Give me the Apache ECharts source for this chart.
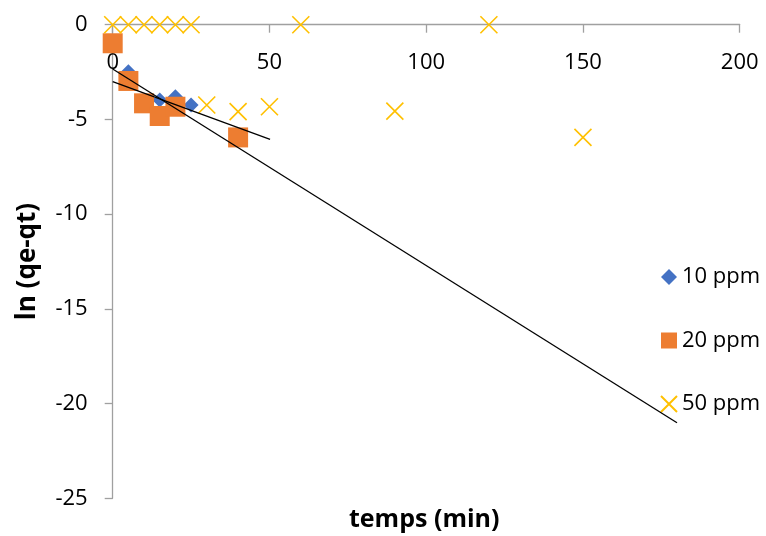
<!DOCTYPE html>
<html>
<head>
<meta charset="utf-8">
<script src="https://cdn.jsdelivr.net/npm/echarts@6/dist/echarts.min.js"></script>
<style>
  html, body { margin: 0; padding: 0; background: #fff; }
  #chart { width: 766px; height: 536px; }
</style>
</head>
<body>
<div id="chart"></div>
<script>
// ln(qe - qt) versus contact time for three initial concentrations
const xTicks = [0, 50, 100, 150, 200];
const yTicks = [-25, -20, -15, -10, -5, 0];

const t10 = [5, 10, 15, 20, 25];
const ln10 = [-2.48, -4.1, -3.98, -3.8, -4.24];

const t20 = [0, 5, 10, 15, 20, 40];
const ln20 = [-0.98, -2.97, -4.15, -4.82, -4.33, -5.95];

const t50 = [0, 5, 10, 15, 20, 25, 60, 120, 30, 40, 50, 90, 150];
const ln50 = [0, 0, 0, 0, 0, 0, 0, 0, -4.24, -4.59, -4.33, -4.56, -5.95];

// linear fits, given by their end points
const fitA_t = [0, 180];
const fitA_y = [-2.34, -21.01];
const fitB_t = [0, 50.2];
const fitB_y = [-3.01, -6.05];

const pairs = (xs, ys) => xs.map((x, i) => [x, ys[i]]);

const FONT = '"Open Sans", "Liberation Sans", sans-serif';
const crossPath = 'path://M0,0L10,10M10,0L0,10';

const chart = echarts.init(document.getElementById('chart'), null, { renderer: 'canvas' });

chart.setOption({
  animation: false,
  backgroundColor: '#ffffff',
  textStyle: { fontFamily: FONT },
  title: {
    text: 'temps (min)',
    left: 349,
    top: 507,
    padding: 0,
    textStyle: { fontFamily: FONT, fontSize: 25, fontWeight: 'bold', color: '#000' }
  },
  grid: {
    left: 112.7, right: 26.3, top: 24.7, bottom: 37.7,
    containLabel: false,
    outerBoundsMode: 'none'
  },
  legend: {
    orient: 'vertical',
    left: 655,
    top: 261,
    itemWidth: 16,
    itemHeight: 16,
    itemGap: 41.5,
    textStyle: { fontFamily: FONT, fontSize: 22, color: '#000' },
    data: ['10 ppm', '20 ppm', '50 ppm']
  },
  xAxis: {
    type: 'value',
    position: 'top',
    min: xTicks[0],
    max: xTicks[xTicks.length - 1],
    interval: 50,
    axisLine: { onZero: false, lineStyle: { color: '#a0a0a0', width: 1.3 } },
    axisTick: { show: true, inside: true, length: 8, lineStyle: { color: '#a0a0a0', width: 1.3 } },
    splitLine: { show: false },
    axisLabel: { inside: true, fontFamily: FONT, fontSize: 22, color: '#000', margin: 27 }
  },
  yAxis: {
    type: 'value',
    min: yTicks[0],
    max: yTicks[yTicks.length - 1],
    interval: 5,
    axisLine: { show: true, onZero: false, lineStyle: { color: '#a0a0a0', width: 1.3 } },
    axisTick: { show: true, length: 8, lineStyle: { color: '#a0a0a0', width: 1.3 } },
    splitLine: { show: false },
    axisLabel: { fontFamily: FONT, fontSize: 22, color: '#000', margin: 25 },
    name: 'ln (qe-qt)',
    nameLocation: 'middle',
    nameGap: 72,
    nameRotate: 90,
    nameTextStyle: { fontFamily: FONT, fontSize: 26, fontWeight: 'bold', color: '#000' }
  },
  series: [
    {
      name: '10 ppm',
      type: 'scatter',
      clip: false,
      symbol: 'diamond',
      symbolSize: 15,
      itemStyle: { color: '#4472C4', opacity: 1 },
      data: pairs(t10, ln10)
    },
    {
      name: '20 ppm',
      type: 'scatter',
      clip: false,
      symbol: 'rect',
      symbolSize: 20,
      itemStyle: { color: '#ED7D31', opacity: 1 },
      data: pairs(t20, ln20)
    },
    {
      name: '50 ppm',
      type: 'scatter',
      clip: false,
      symbol: crossPath,
      symbolSize: 17,
      itemStyle: { color: 'rgba(0,0,0,0)', borderColor: '#FFC000', borderWidth: 1.6, opacity: 1 },
      data: pairs(t50, ln50)
    },
    {
      name: 'fitA',
      type: 'line',
      showSymbol: false,
      symbol: 'none',
      silent: true,
      lineStyle: { color: '#000', width: 1.3 },
      data: pairs(fitA_t, fitA_y),
      z: 5
    },
    {
      name: 'fitB',
      type: 'line',
      showSymbol: false,
      symbol: 'none',
      silent: true,
      lineStyle: { color: '#000', width: 1.3 },
      data: pairs(fitB_t, fitB_y),
      z: 5
    }
  ]
});
</script>
</body>
</html>
